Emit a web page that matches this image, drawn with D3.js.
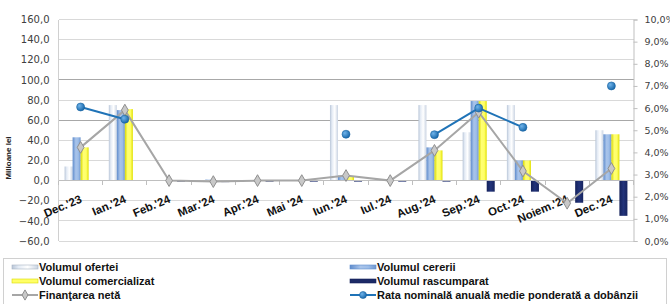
<!DOCTYPE html>
<html><head><meta charset="utf-8">
<script src="https://cdn.jsdelivr.net/npm/d3@7"></script>
<style>body{margin:0;background:#fff}svg{display:block}</style>
</head><body>
<svg id="c" width="670" height="304"></svg>
<script>
const categories = ["Dec.'23","Ian.'24","Feb.'24","Mar.'24","Apr.'24","Mai '24","Iun.'24","Iul.'24","Aug.'24","Sep.'24","Oct.'24","Noiem.'24","Dec.'24"];
const ofertei      = [14, 75, 0.5, 0.5, 0.5, 0.5, 75, 0.5, 75, 48, 75, 0, 50];
const cererii      = [43, 70, 0.5, 1, 0.5, 0.5, 5, 0.5, 33, 79, 20, 0, 46];
const comercializat= [33, 71, 0, 0, 0, 0, 4, 0, 30, 79, 20, 0, 46];
const rascumparat  = [0.5, 0.5, -1, -1.5, -1, -1, -1, -1, -1, -11, -11, -22, -35];
const finantare    = [33, 70, 0, -1, 0, 0, 5, 0, 30, 68, 9.5, -22.5, 12];
const rata         = [6.05, 5.5, null, null, null, null, 4.82, null, 4.8, 6.0, 5.13, null, 7.0];
const leftTicks = [-60,-40,-20,0,20,40,60,80,100,120,140,160];
const rightTicks = [0,1,2,3,4,5,6,7,8,9,10];
const seriesNames = ["Volumul ofertei","Volumul cererii","Volumul comercializat","Volumul rascumparat"];

const svg = d3.select("#c");
const L = 58.5, R = 633.5, T = 19.5, B = 241;
const x = d3.scaleBand().domain(categories).range([L, R]).paddingInner(0.275).paddingOuter(0.1375);
const x1 = d3.scaleBand().domain(seriesNames).range([0, x.bandwidth()]);
const y = d3.scaleLinear().domain([-60,160]).range([B, T]);
const y2 = d3.scaleLinear().domain([0,10]).range([B, T]);
const cx = c => x(c) + x.bandwidth()/2;

const defs = svg.append("defs");
function hgrad(id, stops){
  const g = defs.append("linearGradient").attr("id", id).attr("x1","0").attr("x2","1").attr("y1","0").attr("y2","0");
  stops.forEach(s => g.append("stop").attr("offset", s[0]).attr("stop-color", s[1]));
}
hgrad("gOf", [[0,"#b9c6d8"],[0.25,"#e4ebf5"],[0.6,"#ffffff"],[1,"#c9d3e2"]]);
hgrad("gCe", [[0,"#5f8ccc"],[0.4,"#a9c4ea"],[0.7,"#9dbde8"],[1,"#6f97d0"]]);
hgrad("gCo", [[0,"#d9d900"],[0.35,"#ffff73"],[0.7,"#ffff66"],[1,"#e0e000"]]);
hgrad("gRa", [[0,"#14215a"],[0.5,"#22337a"],[1,"#17245e"]]);
const rg = defs.append("radialGradient").attr("id","gDot").attr("cx","0.35").attr("cy","0.35").attr("r","0.7");
rg.append("stop").attr("offset",0).attr("stop-color","#6fb3ea");
rg.append("stop").attr("offset",1).attr("stop-color","#1565a8");
const fills = ["url(#gOf)","url(#gCe)","url(#gCo)","url(#gRa)"];

// gridlines
svg.append("g").selectAll("line").data(leftTicks).join("line")
  .attr("x1", L).attr("x2", R).attr("y1", d => y(d)).attr("y2", d => y(d))
  .attr("stroke", d => (d===100||d===60) ? "#a8a8a8" : "#d9d9d9").attr("stroke-width", 1)
  .attr("shape-rendering","crispEdges");
svg.append("line").attr("x1",L).attr("x2",L).attr("y1",T).attr("y2",B).attr("stroke","#d0d0d0").attr("shape-rendering","crispEdges");

// left axis labels
const yAxis = d3.axisLeft(y).tickValues(leftTicks).tickSize(0).tickPadding(0)
  .tickFormat(d => d3.format(".1f")(d).replace(".", ","));
const ya = svg.append("g").attr("transform", `translate(${L-9},0)`).call(yAxis);
ya.select(".domain").remove();
ya.selectAll("text").attr("font-family","DejaVu Sans, Verdana, sans-serif").attr("font-size","10px").attr("fill","#404040");

// right axis
const yAxis2 = d3.axisRight(y2).tickValues(rightTicks).tickSize(4).tickPadding(7)
  .tickFormat(d => d3.format(".1f")(d).replace(".", ",") + "%");
const ra = svg.append("g").attr("transform", `translate(${R},0)`).call(yAxis2);
ra.select(".domain").attr("stroke","#bfbfbf");
ra.selectAll("line").attr("stroke","#bfbfbf");
ra.selectAll("text").attr("font-family","DejaVu Sans, Verdana, sans-serif").attr("font-size","9.5px").attr("fill","#404040");

// y title
svg.append("text").attr("transform","translate(11,158) rotate(-90)").attr("text-anchor","middle")
  .attr("font-family","Liberation Sans Narrow, Liberation Sans, Arial, sans-serif").attr("font-weight","bold").attr("font-size","8px").attr("fill","#222")
  .text("Milioane lei");

// bars
const seriesVals = [ofertei, cererii, comercializat, rascumparat];
const barG = svg.append("g");
seriesVals.forEach((vals, si) => {
  barG.append("g").selectAll("rect").data(categories).join("rect")
    .attr("x", (c) => x(c) + x1(seriesNames[si]))
    .attr("width", x1.bandwidth())
    .attr("y", (c,i) => y(Math.max(0, vals[i])))
    .attr("height", (c,i) => Math.abs(y(vals[i]) - y(0)))
    .attr("fill", fills[si]);
});

// zero axis line + category ticks
svg.append("line").attr("x1",L).attr("x2",R).attr("y1",y(0)).attr("y2",y(0)).attr("stroke","#bfbfbf").attr("shape-rendering","crispEdges");
svg.append("g").selectAll("line").data(d3.range(categories.length+1)).join("line")
  .attr("x1", i => L + i*x.step()).attr("x2", i => L + i*x.step())
  .attr("y1", y(0)).attr("y2", y(0)+4).attr("stroke","#bfbfbf").attr("shape-rendering","crispEdges");

// category labels
svg.append("g").selectAll("text").data(categories).join("text")
  .attr("transform", c => `translate(${cx(c)+2},202) rotate(-23)`)
  .attr("text-anchor","end")
  .attr("font-family","Liberation Sans, Arial, sans-serif").attr("font-weight","bold").attr("font-size","11.5px").attr("fill","#111")
  .text(c => c);

// net financing line
const netLine = d3.line().x((d,i) => cx(categories[i])).y(d => y(d));
svg.append("path").datum(finantare).attr("d", netLine).attr("fill","none").attr("stroke","#a6a6a6").attr("stroke-width",2);
svg.append("g").selectAll("path").data(finantare).join("path")
  .attr("d", d3.symbol(d3.symbolDiamond, 40))
  .attr("transform", (d,i) => `translate(${cx(categories[i])},${y(d)})`)
  .attr("fill","#c8c8c8").attr("stroke","#8f8f8f").attr("stroke-width",1);

// rate line
const rateLine = d3.line().defined(d => d != null).x((d,i) => cx(categories[i])).y(d => y2(d));
svg.append("path").datum(rata).attr("d", rateLine).attr("fill","none").attr("stroke","#1f73b7").attr("stroke-width",2);
svg.append("g").selectAll("circle").data(rata.map((v,i)=>({v,i})).filter(d => d.v != null)).join("circle")
  .attr("cx", d => cx(categories[d.i])).attr("cy", d => y2(d.v)).attr("r", 4)
  .attr("fill","url(#gDot)").attr("stroke","#1a64a3").attr("stroke-width",0.6);

// legend
const lg = svg.append("g");
lg.append("rect").attr("x",3.5).attr("y",258.5).attr("width",663).attr("height",50).attr("fill","#fff").attr("stroke","#d0d0d0");
const legendItems = [
  {name: seriesNames[0], type:"bar", fill:"url(#gOf)", stroke:"#a9b4c4", col:0, row:0},
  {name: seriesNames[1], type:"bar", fill:"url(#gCe)", stroke:"#5f8ccc", col:1, row:0},
  {name: seriesNames[2], type:"bar", fill:"#ffff66", stroke:"#d9d900", col:0, row:1},
  {name: seriesNames[3], type:"bar", fill:"#1c2a66", stroke:"#14215a", col:1, row:1},
  {name: "Finanţarea netă", type:"net", col:0, row:2},
  {name: "Rata nominală anuală medie ponderată a dobânzii", type:"rate", col:1, row:2}
];
const colX = [12, 350];
legendItems.forEach(it => {
  const gx = colX[it.col], gy = 267 + it.row*14;
  const g = lg.append("g").attr("transform", `translate(${gx},${gy})`);
  if (it.type === "bar") {
    g.append("rect").attr("x",0).attr("y",-2).attr("width",26).attr("height",4).attr("fill",it.fill).attr("stroke",it.stroke).attr("stroke-width",0.6);
  } else if (it.type === "net") {
    g.append("line").attr("x1",0).attr("x2",26).attr("stroke","#a6a6a6").attr("stroke-width",2);
    g.append("path").attr("d", d3.symbol(d3.symbolDiamond, 30)).attr("transform","translate(13,0)").attr("fill","#c8c8c8").attr("stroke","#8f8f8f");
  } else {
    g.append("line").attr("x1",0).attr("x2",26).attr("stroke","#1f73b7").attr("stroke-width",2);
    g.append("circle").attr("cx",13).attr("cy",0).attr("r",3.5).attr("fill","url(#gDot)").attr("stroke","#1a64a3").attr("stroke-width",0.6);
  }
  g.append("text").attr("x",27).attr("y",0).attr("dy","0.35em")
    .attr("font-family","Liberation Sans, Arial, sans-serif").attr("font-weight","bold").attr("font-size","11px").attr("fill","#111")
    .text(it.name);
});
</script>
</body></html>
